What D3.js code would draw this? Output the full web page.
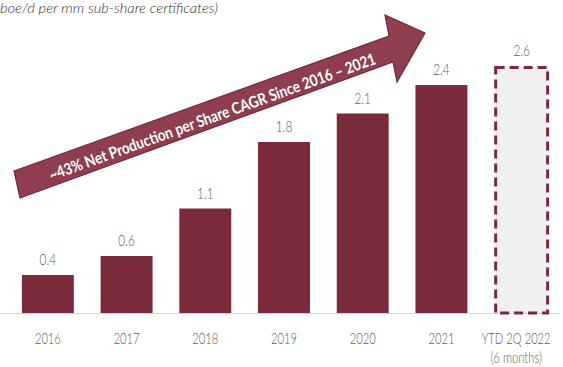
<!DOCTYPE html>
<html>
<head>
<meta charset="utf-8">
<script src="https://cdn.jsdelivr.net/npm/d3@7"></script>
<style>
  html, body { margin: 0; padding: 0; background: #ffffff; }
  svg { display: block; }
  text { font-family: Lato, "Open Sans", sans-serif; }
</style>
</head>
<body>
<svg id="chart" width="563" height="367"></svg>
<script>
// Net production per share, by year
const categories = ["2016", "2017", "2018", "2019", "2020", "2021", "YTD 2Q 2022"];
const values = [0.4, 0.6, 1.1, 1.8, 2.1, 2.4, 2.6];
const valueLabels = ["0.4", "0.6", "1.1", "1.8", "2.1", "2.4", "2.6"];
const subLabels = ["", "", "", "", "", "", "(6 months)"];
const partialPeriod = [false, false, false, false, false, false, true];

const unitsText = "boe/d per mm sub-share certificates)";
const arrowText = "~43% Net Production per Share CAGR Since 2016 \u2013 2021";

const W = 563, H = 367;
const baseY = 313;
const barColor = "#7b2a3a";
const arrowFill = "#8e3e4f";
const labelColor = "#5e5e5e";
const squeeze = 0.72;

const svg = d3.select("#chart");

const x = d3.scaleBand()
  .domain(categories)
  .range([8.5, 559.5])
  .paddingInner(0.34)
  .paddingOuter(0.17);

const y = d3.scaleLinear().domain([0, 3]).range([baseY, baseY - 285]);

// units caption
svg.append("text")
  .attr("x", 0).attr("y", 13)
  .attr("font-size", 14)
  .attr("font-style", "italic")
  .attr("font-weight", 300)
  .attr("fill", "#2e2e2e")
  .attr("textLength", 218)
  .attr("lengthAdjust", "spacingAndGlyphs")
  .text(unitsText);

// baseline
svg.append("line")
  .attr("x1", 0).attr("x2", W - 3)
  .attr("y1", baseY + 0.5).attr("y2", baseY + 0.5)
  .attr("stroke", "#d4d4d4").attr("stroke-width", 1);

const rows = categories.map((c, i) => ({ c, v: values[i], label: valueLabels[i], sub: subLabels[i], partial: partialPeriod[i] }));

// full-year bars
svg.append("g").selectAll("rect")
  .data(rows.filter(d => !d.partial))
  .join("rect")
  .attr("x", d => x(d.c))
  .attr("width", x.bandwidth())
  .attr("y", d => y(d.v))
  .attr("height", d => y(0) - y(d.v))
  .attr("fill", barColor);

// partial-year bar: dashed outline
svg.append("g").selectAll("rect")
  .data(rows.filter(d => d.partial))
  .join("rect")
  .attr("x", d => x(d.c) + 1.5)
  .attr("width", x.bandwidth())
  .attr("y", d => y(d.v) + 1.5)
  .attr("height", d => y(0) - y(d.v) - 1.5)
  .attr("fill", "#f0f0f0")
  .attr("stroke", barColor)
  .attr("stroke-width", 3)
  .attr("stroke-dasharray", "9,5");

// value labels (horizontally condensed type)
svg.append("g").selectAll("text")
  .data(rows)
  .join("text")
  .attr("transform", d => `translate(${x(d.c) + x.bandwidth() / 2 + (d.partial ? 1.5 : 0)},${y(d.v) - 10}) scale(${squeeze},1)`)
  .attr("text-anchor", "middle")
  .attr("font-size", 16.5)
  .attr("font-weight", 300)
  .attr("fill", labelColor)
  .text(d => d.label);

// category axis
const axis = svg.append("g")
  .attr("transform", `translate(0,${baseY})`)
  .call(d3.axisBottom(x).tickSize(0));
axis.select(".domain").remove();
const shiftOf = d => partialPeriod[categories.indexOf(d)] ? -4 : 0;
axis.selectAll(".tick text")
  .attr("x", 0).attr("y", 0).attr("dy", null)
  .attr("transform", d => `translate(${shiftOf(d)},30.5) scale(${squeeze},1)`)
  .attr("font-size", 15.5)
  .attr("font-weight", 300)
  .attr("font-family", "Lato, 'Open Sans', sans-serif")
  .attr("fill", labelColor);
axis.selectAll(".tick")
  .filter(d => subLabels[categories.indexOf(d)])
  .append("text")
  .attr("transform", d => `translate(${shiftOf(d)},49.5) scale(${squeeze + 0.03},1)`)
  .attr("text-anchor", "middle")
  .attr("fill", labelColor)
  .attr("font-size", 15)
  .attr("font-weight", 300)
  .attr("font-family", "Lato, 'Open Sans', sans-serif")
  .text(d => subLabels[categories.indexOf(d)]);

// growth arrow annotation
const arrowShape = [
  [14, 171], [389, 36], [385, 15], [425, 33], [397, 82], [393, 62], [20, 198]
];
svg.append("path")
  .attr("d", d3.line()(arrowShape) + "Z")
  .attr("fill", arrowFill)
  .attr("stroke", "#74283a")
  .attr("stroke-width", 1.2)
  .attr("stroke-linejoin", "miter");

const angle = Math.atan2(36 - 171, 389 - 14) * 180 / Math.PI;
svg.append("text")
  .attr("transform", `translate(212,116) rotate(${angle})`)
  .attr("text-anchor", "middle")
  .attr("dominant-baseline", "central")
  .attr("font-family", "'Open Sans', Lato, sans-serif")
  .attr("font-weight", 700)
  .attr("font-size", 16)
  .attr("fill", "#ffffff")
  .attr("textLength", 346)
  .attr("lengthAdjust", "spacingAndGlyphs")
  .text(arrowText);
</script>
</body>
</html>
